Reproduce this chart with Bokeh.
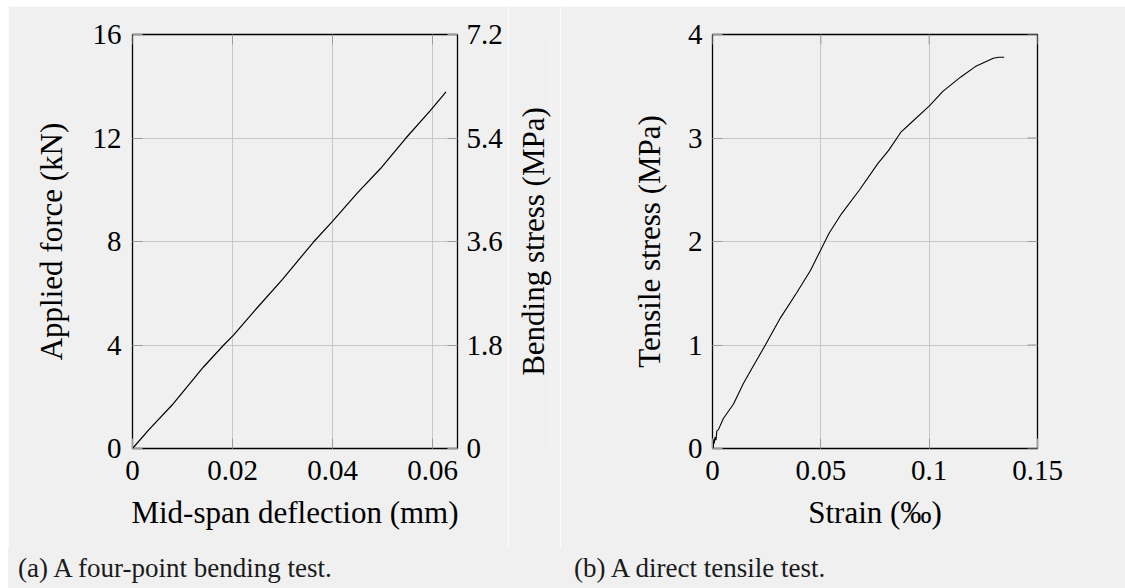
from bokeh.plotting import figure
from bokeh.models import (Range1d, LinearAxis, FixedTicker, CustomJSTickFormatter, Div)
from bokeh.layouts import row, column
from bokeh.embed import file_html
from bokeh.resources import INLINE

# ---- data: four-point bending test ----
bend_deflection = [0.0, 0.0032, 0.0082, 0.0142, 0.0182, 0.0202, 0.0248, 0.0300, 0.0362,
                   0.0399, 0.0449, 0.0496, 0.0546, 0.0596, 0.0627]
bend_force = [0.0, 0.71, 1.74, 3.15, 3.99, 4.38, 5.41, 6.54, 7.98,
              8.76, 9.86, 10.82, 11.98, 13.07, 13.78]

# ---- data: direct tensile test ----
tens_strain = [0.0, 0.0004, 0.0006, 0.0008, 0.0012, 0.0016, 0.0020, 0.0027, 0.0050, 0.0097,
               0.0143, 0.0189, 0.0244, 0.0313, 0.0390, 0.0452, 0.0538, 0.0596, 0.0679,
               0.0762, 0.0813, 0.0871, 0.0913, 0.1001, 0.1063, 0.1146, 0.1213, 0.1296,
               0.1320, 0.1346]
tens_stress = [0.0, 0.015, 0.09, 0.05, 0.11, 0.08, 0.17, 0.18, 0.29, 0.43,
               0.63, 0.80, 1.00, 1.26, 1.51, 1.72, 2.08, 2.27, 2.50,
               2.75, 2.88, 3.06, 3.14, 3.31, 3.45, 3.59, 3.69, 3.77,
               3.78, 3.78]

bend_x_ticks = [0, 0.02, 0.04, 0.06]
bend_y_ticks = [0, 4, 8, 12, 16]
bend_stress_ticks = [0, 1.8, 3.6, 5.4, 7.2]
tens_x_ticks = [0, 0.05, 0.1, 0.15]
tens_y_ticks = [0, 1, 2, 3, 4]

caption_a = "(a) A four-point bending test."
caption_b = "(b) A direct tensile test."
stress_label = "Bending stress (MPa)"

FONT = "Liberation Serif"
BG = "#f0f0f0"
GRID = "#c8c8c8"
TICK = "#9a9a9a"
TICK_LEN = 10
FRAME_W = 325
FRAME_H = 414
TOP = 28
BOTTOM = 100
FIG_H = TOP + FRAME_H + BOTTOM
CAP_H = 588 - 6 - FIG_H
fmt = CustomJSTickFormatter(code="return tick.toString();")


def style_axis(ax, ticks):
    ax.ticker = FixedTicker(ticks=ticks)
    ax.formatter = fmt
    ax.axis_line_color = None
    ax.major_tick_in = TICK_LEN
    ax.major_tick_out = 0
    ax.major_tick_line_color = TICK
    ax.minor_tick_line_color = None
    ax.major_label_text_font = FONT
    ax.major_label_text_font_size = "29px"
    ax.major_label_text_color = "black"
    ax.major_label_standoff = 12
    ax.axis_label_text_font = FONT
    ax.axis_label_text_font_style = "normal"
    ax.axis_label_text_font_size = "31px"
    ax.axis_label_text_color = "black"


def base_fig(width, left, xr, yr, frame_w=FRAME_W):
    right = width - left - frame_w
    p = figure(width=width, height=FIG_H, output_backend="svg", toolbar_location=None,
               x_range=Range1d(*xr), y_range=Range1d(*yr),
               min_border_left=left, min_border_right=right,
               min_border_top=TOP, min_border_bottom=BOTTOM)
    p.background_fill_color = BG
    p.border_fill_color = BG
    p.outline_line_color = "black"
    p.outline_line_width = 1.3
    p.grid.grid_line_color = GRID
    p.grid.grid_line_width = 1
    return p


def caption(text, width, pad):
    return Div(text=f'<div style="line-height:{CAP_H}px;padding-left:{pad}px;white-space:nowrap">{text}</div>',
               width=width, height=CAP_H, margin=(0, 0, 0, 0),
               styles={"background-color": BG, "font-family": FONT, "font-size": "27px",
                       "color": "#1a1a1a"})


def mirror_ticks(p, xticks, yticks, xr, yr, right=True):
    # short inward tick marks on the top (and right) edges, like the bottom/left axes
    dy = TICK_LEN * (yr[1] - yr[0]) / FRAME_H
    p.segment(x0=xticks, y0=[yr[1]] * len(xticks), x1=xticks, y1=[yr[1] - dy] * len(xticks),
              line_color=TICK, line_width=1)
    if right:
        dx = TICK_LEN * (xr[1] - xr[0]) / FRAME_W
        p.segment(x0=[xr[1]] * len(yticks), y0=yticks, x1=[xr[1] - dx] * len(yticks), y1=yticks,
                  line_color=TICK, line_width=1)


# ---------------- left figure ----------------
xr1, yr1 = (0, 0.065), (0, 16)
p1 = base_fig(500, 124, xr1, yr1)
p1.extra_y_ranges = {"stress": Range1d(0, 7.2)}
style_axis(p1.xaxis[0], bend_x_ticks)
style_axis(p1.yaxis[0], bend_y_ticks)
p1.xaxis[0].axis_label = "Mid-span deflection (mm)"
p1.xaxis[0].axis_label_standoff = 12
p1.yaxis[0].axis_label = "Applied force (kN)"
p1.yaxis[0].major_label_standoff = 11
p1.yaxis[0].axis_label_standoff = 21

rax = LinearAxis(y_range_name="stress")
style_axis(rax, bend_stress_ticks)
rax.major_label_standoff = 9
p1.add_layout(rax, "right")

mirror_ticks(p1, bend_x_ticks, bend_y_ticks, xr1, yr1, right=False)
p1.line(bend_deflection, bend_force, line_color="black", line_width=1.2)

# narrow strip carrying the right-hand axis title (reads bottom-to-top)
strip = figure(width=52, height=FIG_H, output_backend="svg", toolbar_location=None,
               x_range=Range1d(0, 1), y_range=Range1d(0, 7.2), x_axis_location=None,
               min_border_left=42, min_border_right=0,
               min_border_top=TOP, min_border_bottom=BOTTOM)
strip.background_fill_color = BG
strip.border_fill_color = BG
strip.outline_line_color = None
strip.grid.visible = False
sax = strip.yaxis[0]
sax.ticker = FixedTicker(ticks=[])
sax.axis_line_color = None
sax.major_tick_line_color = None
sax.minor_tick_line_color = None
sax.axis_label = stress_label
sax.axis_label_standoff = 0
sax.axis_label_text_font = FONT
sax.axis_label_text_font_style = "normal"
sax.axis_label_text_font_size = "31px"
sax.axis_label_text_color = "black"

# ---------------- right figure ----------------
xr2, yr2 = (0, 0.15), (0, 4)
p2 = base_fig(565, 152, xr2, yr2)
style_axis(p2.xaxis[0], tens_x_ticks)
style_axis(p2.yaxis[0], tens_y_ticks)
p2.xaxis[0].axis_label = "Strain (‰)"
p2.xaxis[0].axis_label_standoff = 12
p2.yaxis[0].axis_label = "Tensile stress (MPa)"
p2.yaxis[0].major_label_standoff = 10
p2.yaxis[0].axis_label_standoff = 18

mirror_ticks(p2, tens_x_ticks, tens_y_ticks, xr2, yr2, right=True)
p2.line(tens_strain, tens_stress, line_color="black", line_width=1.1)

left_col = column(row(p1, strip, spacing=0), caption(caption_a, 552, 10), spacing=0)
right_col = column(p2, caption(caption_b, 565, 14), spacing=0)
layout = row(left_col, right_col, spacing=0, margin=(6, 0, 0, 8))
open("out.html", "w").write(file_html(layout, INLINE))
